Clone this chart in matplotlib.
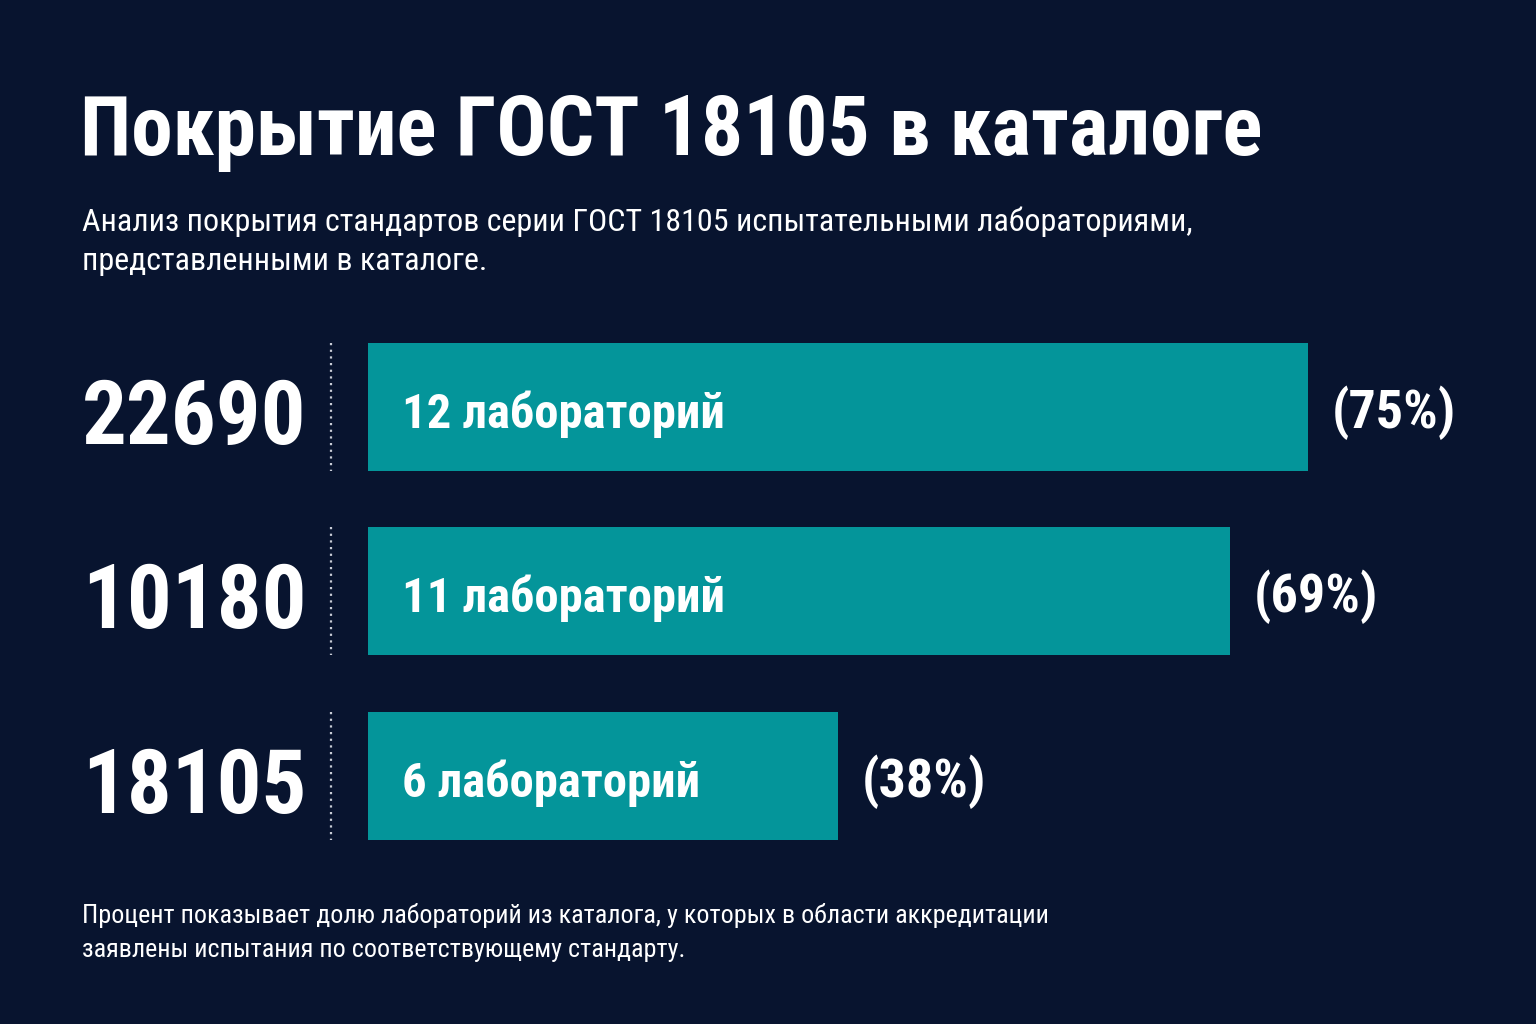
import matplotlib
matplotlib.use("Agg")
import matplotlib.pyplot as plt
from matplotlib import font_manager
from matplotlib.transforms import blended_transform_factory

# data
standards = ["22690", "10180", "18105"]
lab_counts = [12, 11, 6]
percents = [75, 69, 38]

title = "Покрытие ГОСТ 18105 в каталоге"
subtitle = ("Анализ покрытия стандартов серии ГОСТ 18105 испытательными лабораториями,\n"
            "представленными в каталоге.")
footnote = ("Процент показывает долю лабораторий из каталога, у которых в области аккредитации\n"
            "заявлены испытания по соответствующему стандарту.")

BG = "#08142f"
BAR = "#04959a"
WHITE = "#ffffff"

names = {f.name for f in font_manager.fontManager.ttflist}
cond = None
for cand in ["Roboto Condensed", "Liberation Sans Narrow", "DejaVu Sans"]:
    if cand in names:
        cond = cand
        break

W, H = 1536, 1024
fig = plt.figure(figsize=(W / 100, H / 100), dpi=100, facecolor=BG)

# bar axes: x 368..1500 px, y 330..855 px
ax = fig.add_axes([368 / W, 1 - 855 / H, (1500 - 368) / W, (855 - 330) / H])
ax.set_facecolor(BG)
xmax = 12 * (1500 - 368) / (1308 - 368)
ax.set_xlim(0, xmax)
ax.set_ylim(2.428, -0.417)
ax.axis("off")

ypos = list(range(len(standards)))
bh = 128 / 184.5
ax.barh(ypos, lab_counts, height=bh, color=BAR, edgecolor="none")

unit = 184.5  # px per data unit (y)
tr = blended_transform_factory(fig.transFigure, ax.transData)

for i, (std, n, p) in enumerate(zip(standards, lab_counts, percents)):
    ax.text(82 / W, i + 37 / unit, std, transform=tr, ha="left", va="baseline",
            fontsize=64, fontweight="bold", family=cond, color=WHITE)
    ax.plot([331 / W, 331 / W], [i - bh / 2, i + bh / 2], transform=tr,
            color="#c8ccd6", lw=1.6, ls=(0, (1, 2)), clip_on=False)
    ax.annotate(f"{n} лабораторий", xy=(0, i + 21 / unit), xytext=(34 * 0.72, 0),
                textcoords="offset points", ha="left", va="baseline",
                fontsize=35, fontweight="bold", family=cond, color=WHITE)
    ax.annotate(f"({p}%)", xy=(n, i + 21 / unit), xytext=(24 * 0.72, 0),
                textcoords="offset points", ha="left", va="baseline",
                fontsize=39, fontweight="bold", family=cond, color=WHITE,
                annotation_clip=False)

fig.text(80 / W, 1 - 155 / H, title, ha="left", va="baseline",
         fontsize=60, fontweight="bold", family=cond, color=WHITE)
fig.text(82 / W, 1 - 270 / H, subtitle, ha="left", va="baseline",
         fontsize=23, family=cond, color=WHITE, linespacing=1.45)
fig.text(82 / W, 1 - 957 / H, footnote, ha="left", va="baseline",
         fontsize=18.8, family=cond, color=WHITE, linespacing=1.5)

fig.savefig("out.png", dpi=100, facecolor=BG)
